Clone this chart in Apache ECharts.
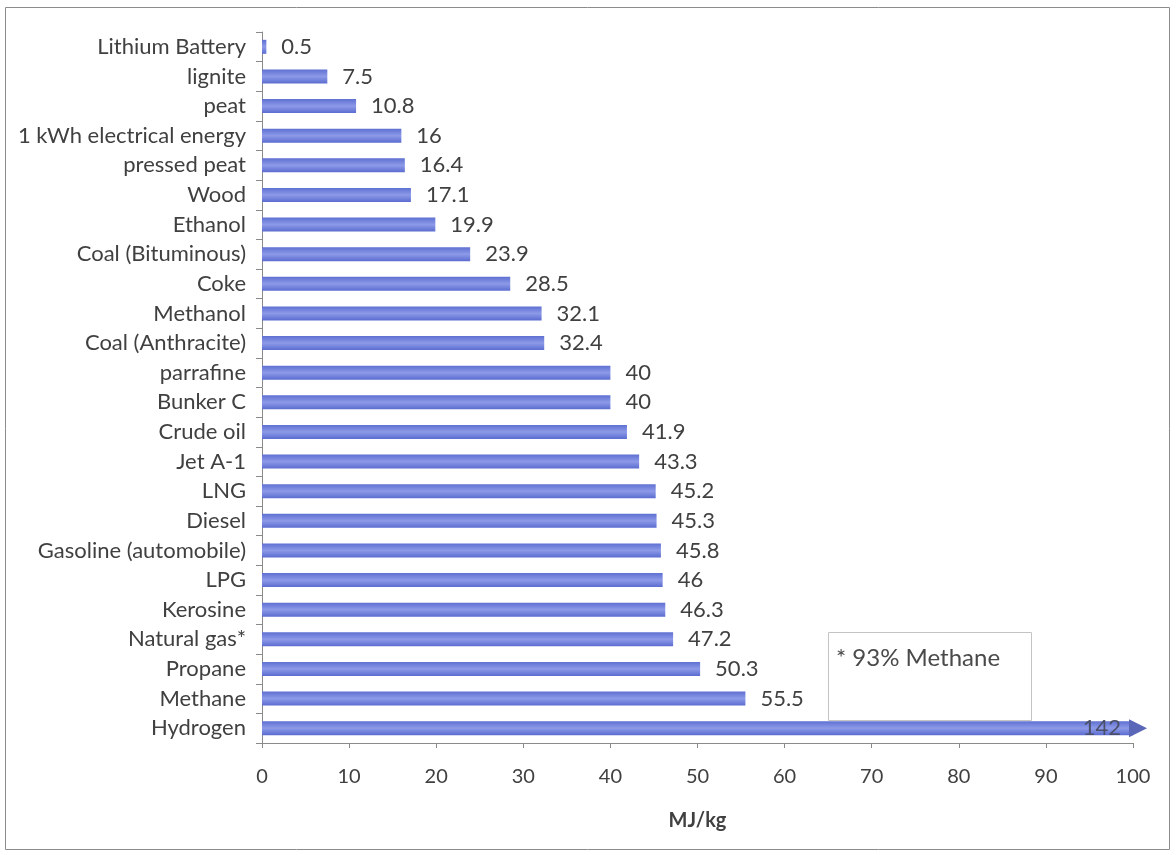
<!DOCTYPE html>
<html>
<head>
<meta charset="utf-8">
<script src="https://cdn.jsdelivr.net/npm/echarts@6/dist/echarts.min.js"></script>
<style>
  html, body { margin: 0; padding: 0; background: #fff; }
  #chart { width: 1176px; height: 855px; }
</style>
</head>
<body>
<div id="chart"></div>
<script>
// Energy density of fuels and storage media (MJ/kg)
const fuels = [
  'Lithium Battery', 'lignite', 'peat', '1 kWh electrical energy', 'pressed peat',
  'Wood', 'Ethanol', 'Coal (Bituminous)', 'Coke', 'Methanol', 'Coal (Anthracite)',
  'parrafine', 'Bunker C', 'Crude oil', 'Jet A-1', 'LNG', 'Diesel',
  'Gasoline (automobile)', 'LPG', 'Kerosine', 'Natural gas*', 'Propane', 'Methane', 'Hydrogen'
];
const energy = [
  0.5, 7.5, 10.8, 16, 16.4, 17.1, 19.9, 23.9, 28.5, 32.1, 32.4,
  40, 40, 41.9, 43.3, 45.2, 45.3, 45.8, 46, 46.3, 47.2, 50.3, 55.5, 142
];
const xTicks = [0, 10, 20, 30, 40, 50, 60, 70, 80, 90, 100];
const footnote = '* 93% Methane';
const axisMax = 100;

const chart = echarts.init(document.getElementById('chart'));
const textColor = '#404040';
const fontFamily = 'Lato, "Open Sans", sans-serif';

const barFill = new echarts.graphic.LinearGradient(0, 0, 0, 1, [
  { offset: 0, color: '#5e70d2' },
  { offset: 0.5, color: '#8d9ae8' },
  { offset: 1, color: '#5b6cd0' }
]);

const option = {
  backgroundColor: '#ffffff',
  animation: false,
  grid: { left: 262, top: 32, right: 43, bottom: 112, containLabel: false },
  xAxis: {
    type: 'value',
    min: xTicks[0],
    max: axisMax,
    interval: 10,
    name: 'MJ/kg',
    nameLocation: 'middle',
    nameGap: 68,
    nameTextStyle: { color: textColor, fontSize: 20, fontWeight: 'bold', fontFamily },
    axisLine: { show: true, lineStyle: { color: '#8a8a8a' } },
    axisTick: { show: true, length: 5, lineStyle: { color: '#8a8a8a' } },
    axisLabel: { color: textColor, fontSize: 20, fontFamily, margin: 24 },
    splitLine: { show: false }
  },
  yAxis: {
    type: 'category',
    data: fuels,
    inverse: true,
    axisLine: { show: true, lineStyle: { color: '#8a8a8a' } },
    axisTick: { show: true, length: 6, lineStyle: { color: '#8a8a8a' } },
    axisLabel: { color: textColor, fontSize: 22, fontFamily, margin: 16 }
  },
  series: [{
    type: 'bar',
    barWidth: 14,
    clip: true,
    itemStyle: { color: barFill },
    label: {
      show: true,
      position: 'right',
      distance: 15,
      color: textColor,
      fontSize: 22,
      fontFamily,
      formatter: p => String(p.value)
    },
    // The off-scale bar gets its value written inside the clipped end
    data: energy.map(v => v > axisMax
      ? { value: v, label: { position: 'insideRight', distance: 12, color: '#4a4f6a' } }
      : v),
    markPoint: {
      silent: true,
      symbol: 'triangle',
      symbolSize: [18, 18],
      symbolRotate: -90,
      symbolOffset: [5, 0],
      itemStyle: { color: '#5a66b8' },
      label: { show: false },
      data: [{ coord: [axisMax, fuels[fuels.length - 1]] }]
    }
  }],
  graphic: [
    {
      type: 'rect',
      shape: { x: 5.5, y: 7.5, width: 1164, height: 842 },
      style: { fill: null, stroke: '#8c8c8c', lineWidth: 1 },
      silent: true
    },
    {
      type: 'rect',
      shape: { x: 828.5, y: 632.5, width: 203, height: 88 },
      style: { fill: '#ffffff', stroke: '#c4c4c4', lineWidth: 1 },
      silent: true
    },
    {
      type: 'text',
      x: 836, y: 646,
      style: { text: footnote, fill: '#4a4a4a', fontSize: 24, fontFamily },
      silent: true
    }
  ]
};

chart.setOption(option);
</script>
</body>
</html>
